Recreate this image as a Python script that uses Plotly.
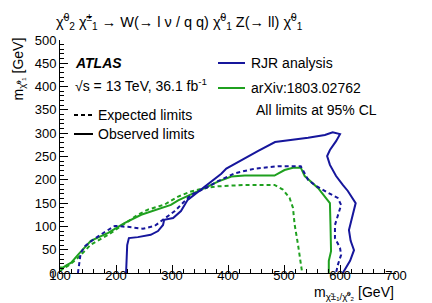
import plotly.graph_objects as go

# ---------------- data ----------------
rjr_obs_x = [218, 219, 220, 223, 239, 262, 275, 284, 286, 302, 316, 328, 358, 388, 397, 420, 447, 454,
             484, 512, 543, 573, 587, 600, 593, 582, 577, 582, 593, 605, 614, 628, 623, 616, 619, 625, 618, 605]
rjr_obs_y = [0, 30, 60, 75, 77, 82, 90, 103, 114, 118, 133, 157, 185, 213, 224, 240, 257, 262,
             281, 285, 290, 296, 302, 298, 283, 264, 251, 232, 208, 189, 176, 150, 124, 92, 69, 49, 26, 0]

rjr_exp_x = [132, 135, 137, 145, 160, 180, 198, 221, 248, 269, 284, 305, 334, 360, 382, 412, 448, 489,
             512, 530, 543, 557, 579, 596, 602, 596, 591, 591, 600, 602, 596, 593]
rjr_exp_y = [0, 26, 43, 58, 72, 88, 101, 99, 95, 101, 114, 133, 168, 182, 197, 214, 224, 229,
             229, 229, 200, 187, 172, 161, 146, 124, 103, 75, 54, 39, 17, 0]

arx_obs_x = [100, 106, 112, 120, 132, 155, 186, 215, 245, 275, 298, 311, 334, 358, 382, 406, 430, 483,
             501, 516, 530, 537, 561, 582, 583, 584, 580, 580]
arx_obs_y = [12, 12, 17, 22, 39, 69, 86, 107, 125, 137, 146, 156, 168, 182, 196, 207, 209, 209,
             221, 226, 226, 208, 182, 150, 104, 47, 26, 0]

arx_exp_x = [100, 103, 114, 129, 144, 155, 186, 215, 239, 257, 287, 311, 334, 358, 382, 430, 483,
             498, 510, 516, 519, 525, 530, 532, 532]
arx_exp_y = [4, 7, 15, 29, 47, 61, 82, 105, 125, 136, 147, 164, 175, 182, 186, 189, 189,
             179, 161, 140, 104, 61, 26, 4, 0]

x_range = [100, 700]
y_range = [0, 500]

BLUE = "#16169c"
GREEN = "#1fa01f"
FONT = "Liberation Sans, Arial, sans-serif"

# plot-area geometry (pixels)
L, R, T, B = 52, 44, 32, 38
W, H = 432, 303
PW, PH = W - L - R, H - T - B


def px(xpix):
    return (xpix - L) / PW


def py(ypix):
    return (H - B - ypix) / PH


fig = go.Figure()
fig.add_trace(go.Scatter(x=arx_exp_x, y=arx_exp_y, mode="lines",
                         line=dict(color=GREEN, width=2, dash="4px,3px")))
fig.add_trace(go.Scatter(x=arx_obs_x, y=arx_obs_y, mode="lines",
                         line=dict(color=GREEN, width=2)))
fig.add_trace(go.Scatter(x=rjr_exp_x, y=rjr_exp_y, mode="lines",
                         line=dict(color=BLUE, width=2, dash="4px,3px")))
fig.add_trace(go.Scatter(x=rjr_obs_x, y=rjr_obs_y, mode="lines",
                         line=dict(color=BLUE, width=2)))

axis_common = dict(ticks="inside", showline=True, linecolor="black", linewidth=1,
                   showgrid=False, zeroline=False,
                   tickfont=dict(family=FONT, size=13, color="black"),
                   tickcolor="black", ticklen=8, tickwidth=1)
minor_x = dict(dtick=20, ticklen=4, ticks="inside", tickcolor="black", showgrid=False)
minor_y = dict(dtick=10, ticklen=4, ticks="inside", tickcolor="black", showgrid=False)

fig.update_layout(
    xaxis=dict(range=x_range, dtick=100, tick0=100, minor=minor_x, ticklabelstandoff=-10, **axis_common),
    yaxis=dict(range=y_range, dtick=50, tick0=0, minor=minor_y, **axis_common),
    xaxis2=dict(range=x_range, dtick=100, tick0=100, minor=minor_x, overlaying="x", side="top",
                anchor="y", showticklabels=False, **axis_common),
    yaxis2=dict(range=y_range, dtick=50, tick0=0, minor=minor_y, overlaying="y", side="right",
                anchor="x", showticklabels=False, **axis_common),
)

ann = []
# title
ann.append(dict(x=px(46), y=py(14), xref="paper", yref="paper", xanchor="left", yanchor="middle",
                text="χ̃<sup>0</sup><sub>2</sub> χ̃<sup>±</sup><sub>1</sub> → W(→ l ν / q q) χ̃<sup>0</sup><sub>1</sub> Z(→ ll) χ̃<sup>0</sup><sub>1</sub>",
                font=dict(size=14.5)))
# axis titles
ann.append(dict(x=px(388), y=py(285), xref="paper", yref="paper", xanchor="right", yanchor="middle",
                text="m<sub>χ̃±₁/χ̃⁰₂</sub> [GeV]", font=dict(size=14)))
ann.append(dict(x=px(10), y=py(28), xref="paper", yref="paper", xanchor="center", yanchor="top",
                textangle=-90, text="m<sub>χ̃⁰₁</sub> [GeV]", font=dict(size=14)))
# ATLAS labels
ann.append(dict(x=px(65), y=py(55), xref="paper", yref="paper", xanchor="left", yanchor="middle",
                text="<b><i>ATLAS</i></b>", font=dict(size=14)))
ann.append(dict(x=px(65), y=py(77), xref="paper", yref="paper", xanchor="left", yanchor="middle",
                text="√s = 13 TeV, 36.1 fb<sup>-1</sup>", font=dict(size=14)))
# legend (left)
ann.append(dict(x=px(88), y=py(107), xref="paper", yref="paper", xanchor="left", yanchor="middle",
                text="Expected limits", font=dict(size=14)))
ann.append(dict(x=px(88), y=py(126), xref="paper", yref="paper", xanchor="left", yanchor="middle",
                text="Observed limits", font=dict(size=14)))
# legend (right)
ann.append(dict(x=px(241), y=py(55), xref="paper", yref="paper", xanchor="left", yanchor="middle",
                text="RJR analysis", font=dict(size=14)))
ann.append(dict(x=px(241), y=py(80), xref="paper", yref="paper", xanchor="left", yanchor="middle",
                text="arXiv:1803.02762", font=dict(size=14)))
ann.append(dict(x=px(246), y=py(102), xref="paper", yref="paper", xanchor="left", yanchor="middle",
                text="All limits at 95% CL", font=dict(size=14)))
for a in ann:
    a["showarrow"] = False
    a["font"]["family"] = FONT
    a["font"]["color"] = "black"

shapes = [
    dict(type="line", xref="paper", yref="paper", x0=px(66), x1=px(85), y0=py(107), y1=py(107),
         line=dict(color="black", width=2, dash="4px,3px")),
    dict(type="line", xref="paper", yref="paper", x0=px(66), x1=px(85), y0=py(126), y1=py(126),
         line=dict(color="black", width=2)),
    dict(type="line", xref="paper", yref="paper", x0=px(210), x1=px(237), y0=py(55), y1=py(55),
         line=dict(color=BLUE, width=2)),
    dict(type="line", xref="paper", yref="paper", x0=px(210), x1=px(237), y0=py(80), y1=py(80),
         line=dict(color=GREEN, width=2)),
]

fig.update_layout(width=W, height=H, margin=dict(l=L, r=R, t=T, b=B, pad=0),
                  paper_bgcolor="white", plot_bgcolor="white", showlegend=False,
                  font=dict(family=FONT, size=13, color="black"),
                  annotations=ann, shapes=shapes)

fig.write_html("out.html")
